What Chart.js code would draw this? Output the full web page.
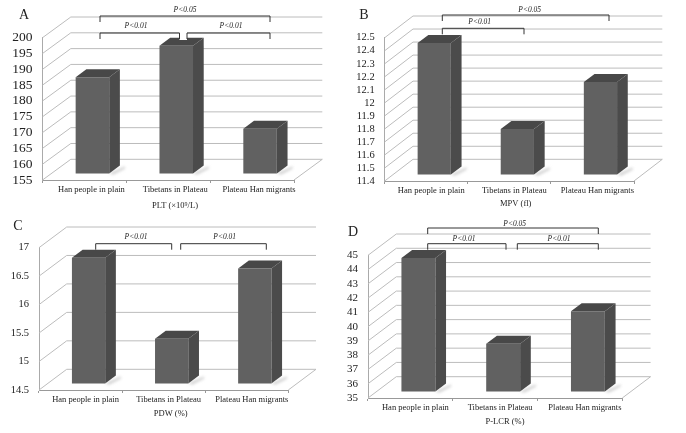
<!DOCTYPE html>
<html>
<head>
<meta charset="utf-8">
<script src="https://cdn.jsdelivr.net/npm/chart.js@4"></script>
<style>
  html, body { margin: 0; padding: 0; background: #fff; }
  canvas { position: absolute; }
</style>
</head>
<body>
<canvas id="chartA" width="343" height="216" style="left:0;top:0"></canvas>
<canvas id="chartB" width="343" height="216" style="left:343px;top:0"></canvas>
<canvas id="chartC" width="343" height="217" style="left:0;top:216px"></canvas>
<canvas id="chartD" width="343" height="217" style="left:343px;top:216px"></canvas>
<script>
const categories = ["Han people in plain", "Tibetans in Plateau", "Plateau Han migrants"];

const plt = [185.5, 195.4, 169.2];
const mpv = [12.41, 11.75, 12.11];
const pdw = [16.71, 15.29, 16.52];
const plcr = [44.36, 38.36, 40.63];

const pltTicks = ["155", "160", "165", "170", "175", "180", "185", "190", "195", "200"];
const mpvTicks = ["11.4", "11.5", "11.6", "11.7", "11.8", "11.9", "12", "12.1", "12.2", "12.3", "12.4", "12.5"];
const pdwTicks = ["14.5", "15", "15.5", "16", "16.5", "17"];
const plcrTicks = ["35", "36", "37", "38", "39", "40", "41", "42", "43", "44", "45"];

const SERIF = "'Liberation Serif', 'Times New Roman', serif";
const GRID = "#bcbcbc";
const FRONT = "#616161";
const SIDE = "#4b4b4b";
const TOP = "#484848";

// depth of the whole box and of the bars, px
const BAR_SHIFT = { x: 8, y: -6.4 };
const BAR_DEPTH = { x: 10.7, y: -8 };

const depthPlugin = {
  id: "depth",
  beforeDatasetsDraw(chart) {
    const { ctx, chartArea: a, scales: { y } } = chart;
    const d = chart.options.plugins.depth;
    ctx.save();
    ctx.strokeStyle = GRID;
    ctx.lineWidth = 1;
    y.ticks.forEach(t => {
      const py = y.getPixelForValue(t.value);
      ctx.beginPath();
      ctx.moveTo(a.left, py);
      ctx.lineTo(a.left + d.dx, py + d.dy);
      ctx.lineTo(a.right + d.dx, py + d.dy);
      ctx.stroke();
    });
    ctx.beginPath();
    ctx.moveTo(a.right, a.bottom);
    ctx.lineTo(a.right + d.dx, a.bottom + d.dy);
    ctx.stroke();
    ctx.restore();
  },
  beforeDatasetDraw(chart, args) {
    const { ctx } = chart;
    ctx.save();
    ctx.translate(BAR_SHIFT.x, BAR_SHIFT.y);
    chart.getDatasetMeta(args.index).data.forEach(bar => {
      const l = bar.x - bar.width / 2, r = bar.x + bar.width / 2;
      const dx = BAR_DEPTH.x, dy = BAR_DEPTH.y;
      // floor shadow
      ctx.save();
      ctx.filter = "blur(1.5px)";
      ctx.fillStyle = "#c9c9c9";
      ctx.beginPath();
      ctx.moveTo(r, bar.base);
      ctx.lineTo(r + dx + 5, bar.base + dy + 1);
      ctx.lineTo(r + dx + 5, bar.base + dy + 3);
      ctx.lineTo(r + 4, bar.base + 1);
      ctx.closePath();
      ctx.fill();
      ctx.restore();
      ctx.fillStyle = SIDE;
      ctx.beginPath();
      ctx.moveTo(r, bar.y);
      ctx.lineTo(r + dx, bar.y + dy);
      ctx.lineTo(r + dx, bar.base + dy);
      ctx.lineTo(r, bar.base);
      ctx.closePath();
      ctx.fill();
      ctx.fillStyle = TOP;
      ctx.beginPath();
      ctx.moveTo(l, bar.y);
      ctx.lineTo(l + dx, bar.y + dy);
      ctx.lineTo(r + dx, bar.y + dy);
      ctx.lineTo(r, bar.y);
      ctx.closePath();
      ctx.fill();
    });
  },
  afterDatasetDraw(chart) {
    chart.ctx.restore();
  },
  afterDraw(chart) {
    const { ctx } = chart;
    const d = chart.options.plugins.depth;
    ctx.save();
    ctx.textAlign = "center";
    ctx.textBaseline = "middle";
    ctx.fillStyle = "#222";
    ctx.font = "8.5px " + SERIF;
    ctx.fillText(d.title, d.titleX, d.titleY);
    ctx.font = "14px " + SERIF;
    ctx.fillText(d.letter, d.letterX, d.letterY);
    ctx.strokeStyle = "#333";
    ctx.lineWidth = 1;
    d.brackets.forEach(b => {
      if (b.gap) {
        ctx.fillStyle = "#fff";
        ctx.fillRect(b.gap[0], b.y - 1, b.gap[1] - b.gap[0], 8);
        ctx.fillStyle = "#222";
      }
      ctx.beginPath();
      ctx.moveTo(b.x0, b.y + 6);
      ctx.lineTo(b.x0, b.y);
      ctx.lineTo(b.x1, b.y);
      ctx.lineTo(b.x1, b.y + 6);
      ctx.stroke();
      ctx.font = "italic 7.5px " + SERIF;
      ctx.fillText(b.label, b.labelX, b.labelY);
    });
    ctx.restore();
  }
};

// box = plot front plane inside the canvas: left, top, right, bottom
function drawPanel(id, values, tickLabels, min, max, step, box, yFont, depth) {
  new Chart(document.getElementById(id), {
    type: "bar",
    data: {
      labels: categories,
      datasets: [{
        data: values,
        backgroundColor: FRONT,
        barPercentage: 0.4,
        categoryPercentage: 1,
        base: min,
        clip: false
      }]
    },
    options: {
      responsive: false,
      animation: false,
      layout: { padding: { top: box.top, right: box.w - box.right, left: 0, bottom: 0 } },
      plugins: {
        legend: { display: false },
        tooltip: { enabled: false },
        depth
      },
      scales: {
        x: {
          afterFit: s => { s.height = box.h - box.bottom; },
          grid: { drawOnChartArea: false, color: "#999", tickLength: 3 },
          border: { color: "#999" },
          ticks: { font: { family: SERIF, size: 8.5 }, color: "#222", padding: 2, labelOffset: depth.labelShift, maxRotation: 0 }
        },
        y: {
          min, max,
          afterFit: s => { s.width = box.left; },
          grid: { display: false },
          border: { color: "#aaa" },
          ticks: {
            stepSize: step,
            autoSkip: false,
            font: { family: SERIF, size: yFont },
            color: "#222",
            padding: 2,
            callback: (v, i) => tickLabels[i]
          }
        }
      }
    },
    plugins: [depthPlugin]
  });
}

drawPanel("chartA", plt, pltTicks, 155, 200, 5,
  { left: 42.5, top: 37.7, right: 294, bottom: 180, w: 343, h: 216 }, 13.5,
  { dx: 28.3, dy: -20.7, labelShift: 7, title: "PLT (×10⁹/L)", titleX: 175, titleY: 206,
    letter: "A", letterX: 24, letterY: 15,
    brackets: [
      { x0: 100, x1: 270, y: 16, label: "P<0.05", labelX: 185, labelY: 10 },
      { x0: 100, x1: 179.5, y: 33, label: "P<0.01", labelX: 136, labelY: 26, gap: [179.5, 187] },
      { x0: 187, x1: 270, y: 33, label: "P<0.01", labelX: 231, labelY: 26 }
    ] });

drawPanel("chartB", mpv, mpvTicks, 11.4, 12.5, 0.1,
  { left: 41.7, top: 37.7, right: 291, bottom: 181, w: 343, h: 216 }, 10.5,
  { dx: 28.3, dy: -21.7, labelShift: 5, title: "MPV (fl)", titleX: 172.7, titleY: 204,
    letter: "B", letterX: 21, letterY: 15,
    brackets: [
      { x0: 99.3, x1: 266, y: 15, label: "P<0.05", labelX: 186.7, labelY: 10 },
      { x0: 99.3, x1: 181, y: 28.3, label: "P<0.01", labelX: 136.7, labelY: 22.3 }
    ] });

drawPanel("chartC", pdw, pdwTicks, 14.5, 17, 0.5,
  { left: 39, top: 31.7, right: 288.3, bottom: 174, w: 343, h: 217 }, 10.5,
  { dx: 27.7, dy: -20.7, labelShift: 5, title: "PDW (%)", titleX: 170.7, titleY: 198,
    letter: "C", letterX: 18, letterY: 10,
    brackets: [
      { x0: 95.7, x1: 171.7, y: 27.7, label: "P<0.01", labelX: 136, labelY: 21.3 },
      { x0: 180.7, x1: 266.3, y: 27.7, label: "P<0.01", labelX: 224.7, labelY: 21.3 }
    ] });

drawPanel("chartD", plcr, plcrTicks, 35, 45, 1,
  { left: 25, top: 39.3, right: 279.3, bottom: 182, w: 343, h: 217 }, 11,
  { dx: 28.3, dy: -21.3, labelShift: 5, title: "P-LCR (%)", titleX: 162, titleY: 206,
    letter: "D", letterX: 10, letterY: 16.7,
    brackets: [
      { x0: 84.7, x1: 255.3, y: 12, label: "P<0.05", labelX: 171.7, labelY: 8.3 },
      { x0: 84.7, x1: 163, y: 27.7, label: "P<0.01", labelX: 121, labelY: 22.7 },
      { x0: 174.3, x1: 255.3, y: 27.7, label: "P<0.01", labelX: 216, labelY: 22.7 }
    ] });
</script>
</body>
</html>
